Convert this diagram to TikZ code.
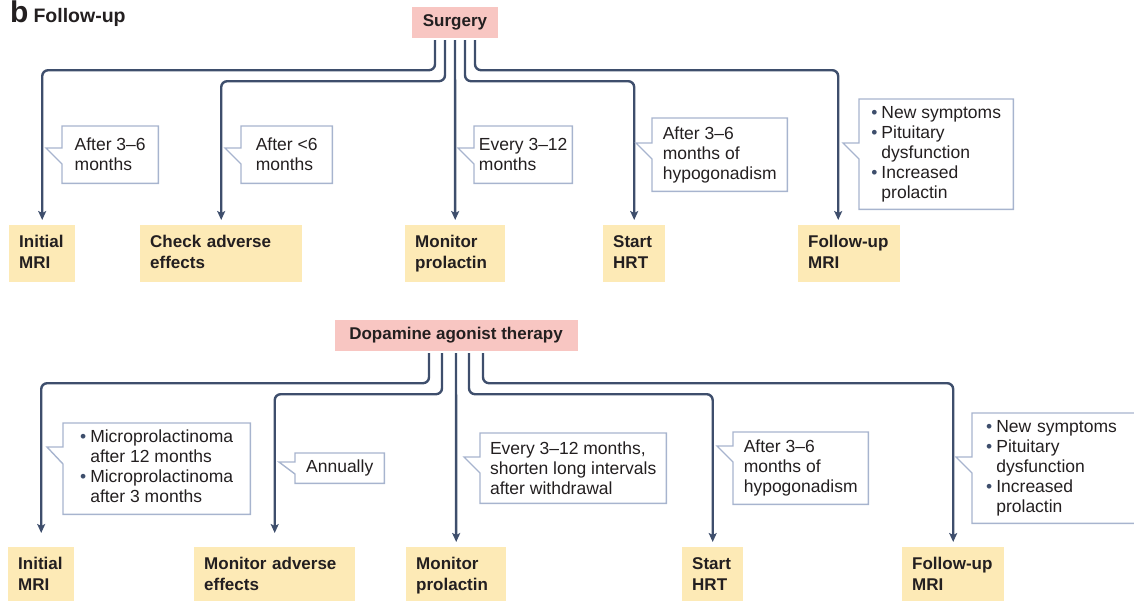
\documentclass[tikz,border=0pt]{standalone}
\usepackage{fontspec}
\setmainfont{Liberation Sans}
\usetikzlibrary{arrows.meta}

\definecolor{flowblue}{HTML}{3E4E6C}
\definecolor{noteblue}{HTML}{A7B4CE}
\definecolor{rootpink}{HTML}{F8C6C2}
\definecolor{stepyellow}{HTML}{FDEAB6}
\definecolor{inktext}{HTML}{231F20}

\tikzset{
	rootbox/.style={fill=rootpink,inner sep=0pt,minimum height=31pt,text=inktext,font=\fontsize{17}{20}\selectfont\bfseries},
	stepbox/.style={fill=stepyellow,anchor=north west,inner ysep=0pt,inner xsep=10pt,minimum height=57pt,align=left,text=inktext,font=\fontsize{17}{21.5}\selectfont\bfseries,execute at begin node=\strut,execute at end node=\strut},
	notebox/.style={anchor=north west,inner sep=0pt,align=left,text=inktext,font=\fontsize{17.5}{20}\selectfont},
	noteline/.style={draw=noteblue,line width=1.4pt,line join=miter},
	flow/.style={draw=flowblue,line width=2.4pt,rounded corners=6pt,-{Stealth[length=9pt,width=8pt,inset=2pt]},shorten >=5pt},
}

% outline of a note with its pointer on the left side
\newcommand{\noteoutline}[3]{%
	\draw[noteline] (#1.north west) -- (#1.north east) -- (#1.south east) -- (#1.south west)
		-- (#1.west |- 0,#3) -- ++(-16,{#2-#3}) -- ++(16,0) -- cycle;}
\newcommand{\notebullet}{\textcolor{flowblue}{\textbullet}}

\begin{document}
\begin{tikzpicture}[x=1pt,y=-1pt]
	\clip (0,0) rectangle (1134,600);

	\node[anchor=base west,inner sep=0pt,text=inktext] (title) at (10,22) {\fontsize{30}{30}\selectfont\bfseries b\hspace{5pt}\fontsize{19.5}{20}\selectfont Follow-up};

	% surgery
	\node[rootbox,minimum width=86pt] (surg) at (455,22.5) {Surgery};

	\node[stepbox,text width=46pt] (mri1) at (9,225) {Initial\\MRI};
	\node[stepbox,text width=142pt] (adv1) at (140,225) {Check adverse\\effects};
	\node[stepbox,text width=80pt] (pro1) at (405,225) {Monitor\\prolactin};
	\node[stepbox,text width=42pt] (hrt1) at (603,225) {Start\\HRT};
	\node[stepbox,text width=82pt] (fu1) at (798,225) {Follow-up\\MRI};

	\draw[flow] ([xshift=-20pt,yshift=-2pt]surg.south) -- ++(0,30) -| (mri1.north);
	\draw[flow] ([xshift=-10pt,yshift=-2pt]surg.south) -- ++(0,41) -| (adv1.north);
	\draw[flow] ([yshift=-2pt]surg.south) -- (pro1.north);
	\draw[flow] ([xshift=10pt,yshift=-2pt]surg.south) -- ++(0,41) -| (hrt1.north);
	\draw[flow] ([xshift=20pt,yshift=-2pt]surg.south) -- ++(0,30) -| ([xshift=-11pt]fu1.north);

	\node[notebox,minimum width=96pt,minimum height=57pt] (c1) at (62,126) {After 3–6\\months};
	\node[notebox,minimum width=91pt,minimum height=57pt] (c2) at (241,126) {After <6\\months};
	\node[notebox,minimum width=98pt,minimum height=57pt] (c3) at (474,126) {Every 3–12\\months};
	\node[notebox,minimum width=135pt,minimum height=73pt] (c4) at (652,118) {After 3–6\\months of\\hypogonadism};
	\node[notebox,minimum width=154pt,minimum height=110pt] (c5) at (859,99) {\begin{tabular}{@{}l@{\hspace{4pt}}l@{}}\notebullet & New symptoms\\ \notebullet & Pituitary\\ & dysfunction\\ \notebullet & Increased\\ & prolactin\end{tabular}};

	\noteoutline{c1}{148}{164}
	\noteoutline{c2}{148}{164}
	\noteoutline{c3}{148}{164}
	\noteoutline{c4}{143}{159}
	\noteoutline{c5}{143}{159}

	% dopamine agonist therapy
	\node[rootbox,minimum width=243pt] (dop) at (456,335.5) {Dopamine agonist therapy};

	\node[stepbox,text width=46pt] (mri2) at (8,547) {Initial\\MRI};
	\node[stepbox,text width=141pt] (adv2) at (194,547) {Monitor adverse\\effects};
	\node[stepbox,text width=80pt] (pro2) at (406,547) {Monitor\\prolactin};
	\node[stepbox,text width=41pt] (hrt2) at (682,547) {Start\\HRT};
	\node[stepbox,text width=82pt] (fu2) at (902,547) {Follow-up\\MRI};

	\draw[flow,shorten >=14pt] ([xshift=-27pt,yshift=-2pt]dop.south) -- ++(0,30) -| (mri2.north);
	\draw[flow,shorten >=14pt] ([xshift=-14pt,yshift=-2pt]dop.south) -- ++(0,41) -| (adv2.north);
	\draw[flow] ([yshift=-2pt]dop.south) -- (pro2.north);
	\draw[flow] ([xshift=13pt,yshift=-2pt]dop.south) -- ++(0,41) -| (hrt2.north);
	\draw[flow] ([xshift=27pt,yshift=-2pt]dop.south) -- ++(0,30) -| (fu2.north);

	\node[notebox,minimum width=187pt,minimum height=91pt] (d1) at (63,423) {\begin{tabular}{@{}l@{\hspace{4pt}}l@{}}\notebullet & Microprolactinoma\\ & after 12 months\\ \notebullet & Microprolactinoma\\ & after 3 months\end{tabular}};
	\node[notebox,minimum width=89pt,minimum height=30pt] (d2) at (295,453) {Annually};
	\node[notebox,minimum width=186pt,minimum height=70pt] (d3) at (480,433) {Every 3–12 months,\\shorten long intervals\\after withdrawal};
	\node[notebox,minimum width=135pt,minimum height=72pt] (d4) at (733,432) {After 3–6\\months of\\hypogonadism};
	\node[notebox,text width=172pt,inner xsep=14pt,minimum height=110pt] (d5) at (972,413) {\begin{tabular}{@{}l@{\hspace{4pt}}l@{}}\notebullet & New symptoms\\ \notebullet & Pituitary\\ & dysfunction\\ \notebullet & Increased\\ & prolactin\end{tabular}};

	\noteoutline{d1}{447}{464}
	\noteoutline{d2}{462}{474}
	\noteoutline{d3}{457}{473}
	\noteoutline{d4}{446}{462}
	\noteoutline{d5}{457}{473}

\end{tikzpicture}
\end{document}
